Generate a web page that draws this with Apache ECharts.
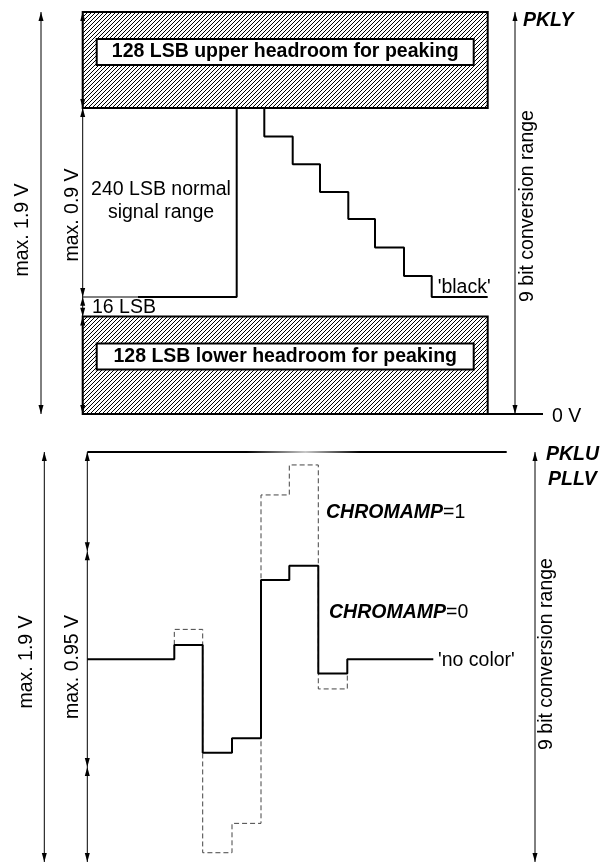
<!DOCTYPE html>
<html>
<head>
<meta charset="utf-8">
<script src="https://cdn.jsdelivr.net/npm/echarts@6/dist/echarts.min.js"></script>
<style>
  html, body { margin: 0; padding: 0; background: #fff; }
  #chart { width: 610px; height: 865px; }
</style>
</head>
<body>
<div id="chart"></div>
<script>
// horizontal position (t) is shared by both panels
// --- upper panel: luma (levels in drawing LSB units, 0 = 0 V)
const headroomT = [82.7, 487.7]
const headroomBottom = [0, 408]
const headroomTop = [130, 536]
const headroomNames = ['128 LSB lower headroom for peaking', '128 LSB upper headroom for peaking']

const lumaT = [138, 236.7, 264.3, 292.7, 320, 348.3, 375, 404, 431.7, 487.7]
const lumaLevel = [156, 408, 370, 333, 296, 260, 222, 184, 156, 156]

// dimension arrows: [t, from, to]
const lumaArrows = [
  [41, 0, 536],
  [82.7, 408, 536],
  [82.7, 156, 408],
  [82.7, 130, 156],
  [82.7, 0, 130],
  [515, 0, 536]
]

// --- lower panel: chroma (levels in mV)
const chromaT = [87.3, 174.3, 202.7, 232, 261, 289.3, 318.3, 347.3, 433.3]
const chroma0 = [940, 1006, 506, 573, 1307, 1373, 874, 940, 940]
const chroma1T = [174.3, 174.3, 202.7, 232, 261, 289.3, 318.3, 347.3]
const chroma1 = [1006, 1078, 43, 179, 1701, 1840, 802, 874]
const chromaTop = [[87.3, 1900], [506.7, 1900]]

const chromaArrows = [
  [44.3, 0, 1900],
  [87.3, 1440, 1900],
  [87.3, 440, 1440],
  [87.3, 0, 440],
  [535, 0, 1900]
]

const FONT = '"Liberation Sans", Arial, sans-serif'

let hatch = document.createElement('canvas')
hatch.width = 4
hatch.height = 4
let hctx = hatch.getContext('2d')
hctx.fillStyle = '#000'
for (let i = 0; i < 4; i++) {
  hctx.fillRect(i, 3 - i, 1, 1)
}

function zip(xs, ys) {
  return xs.map((x, i) => [x, ys[i]])
}

function renderHeadroom(params, api) {
  const p0 = api.coord([api.value(0), api.value(3)])
  const p1 = api.coord([api.value(1), api.value(2)])
  const w = p1[0] - p0[0]
  const h = p1[1] - p0[1]
  return {
    type: 'group',
    children: [
      {
        type: 'rect',
        shape: {x: p0[0], y: p0[1], width: w, height: h},
        style: {fill: {type: 'pattern', image: hatch, repeat: 'repeat'}, stroke: '#000', lineWidth: 2}
      },
      {
        type: 'rect',
        shape: {x: p0[0] + 14, y: p0[1] + 27, width: w - 28, height: 26},
        style: {fill: '#fff', stroke: '#000', lineWidth: 2}
      },
      {
        type: 'text',
        x: p0[0] + w / 2,
        y: p0[1] + 40,
        style: {
          text: headroomNames[params.dataIndex],
          fill: '#000',
          fontFamily: FONT,
          fontWeight: 'bold',
          fontSize: 19.5,
          align: 'center',
          verticalAlign: 'middle'
        }
      }
    ]
  }
}

function renderArrow(params, api) {
  const a = api.coord([api.value(0), api.value(2)])
  const b = api.coord([api.value(0), api.value(1)])
  const hl = Math.min(9, (b[1] - a[1]) / 2.2)
  return {
    type: 'group',
    children: [
      {
        type: 'line',
        shape: {x1: a[0], y1: a[1], x2: b[0], y2: b[1]},
        style: {stroke: '#000', lineWidth: 1}
      },
      {
        type: 'polygon',
        shape: {points: [[a[0], a[1]], [a[0] - 2.5, a[1] + hl], [a[0] + 2.5, a[1] + hl]]},
        style: {fill: '#000'}
      },
      {
        type: 'polygon',
        shape: {points: [[b[0], b[1]], [b[0] - 2.5, b[1] - hl], [b[0] + 2.5, b[1] - hl]]},
        style: {fill: '#000'}
      }
    ]
  }
}

function text(x, y, str, extra) {
  return {
    type: 'text',
    x: x,
    y: y,
    rotation: (extra && extra.rotation) || 0,
    style: Object.assign({
      text: str,
      fill: '#000',
      fontFamily: FONT,
      fontSize: 19.5,
      align: 'left',
      verticalAlign: 'middle'
    }, extra && extra.style)
  }
}

const up = {rotation: Math.PI / 2, style: {align: 'center'}}
const boldItalic = {style: {fontWeight: 'bold', fontStyle: 'italic'}}
const chromaRich = {
  b: {fontFamily: FONT, fontSize: 19.5, fontWeight: 'bold', fontStyle: 'italic', fill: '#000'},
  n: {fontFamily: FONT, fontSize: 19.5, fill: '#000'}
}

let mychart = echarts.init(document.getElementById('chart'))

let option = {
  animation: false,
  backgroundColor: '#fff',
  grid: [
    {left: 0, right: 0, top: 12, height: 402},
    {left: 0, right: 0, top: 452, height: 410}
  ],
  xAxis: [
    {gridIndex: 0, type: 'value', min: 0, max: 610, show: false},
    {gridIndex: 1, type: 'value', min: 0, max: 610, show: false}
  ],
  yAxis: [
    {gridIndex: 0, type: 'value', min: 0, max: 536, show: false},
    {gridIndex: 1, type: 'value', min: 0, max: 1900, show: false}
  ],
  graphic: [
    text(23, 230, 'max. 1.9 V', up),
    text(72.5, 215, 'max. 0.9 V', up),
    text(528, 206, '9 bit conversion range', up),
    text(161, 201.5, '240 LSB normal\nsignal range', {style: {align: 'center', lineHeight: 23}}),
    text(92, 308, '16 LSB'),
    text(437.7, 288, "'black'"),
    text(552, 417, '0 V'),
    text(523, 21, 'PKLY', boldItalic),
    text(27, 662, 'max. 1.9 V', up),
    text(72.5, 667, 'max. 0.95 V', up),
    text(547, 654, '9 bit conversion range', up),
    text(546, 455, 'PKLU', boldItalic),
    text(548, 480, 'PLLV', boldItalic),
    text(326, 513, '{b|CHROMAMP}{n|=1}', {style: {rich: chromaRich}}),
    text(329, 612.5, '{b|CHROMAMP}{n|=0}', {style: {rich: chromaRich}}),
    text(438, 661, "'no color'")
  ],
  series: [
    {
      name: 'headroom',
      type: 'custom',
      xAxisIndex: 0,
      yAxisIndex: 0,
      clip: false,
      renderItem: renderHeadroom,
      data: headroomBottom.map((lo, i) => [headroomT[0], headroomT[1], lo, headroomTop[i]])
    },
    {
      name: 'zero',
      type: 'line',
      xAxisIndex: 0,
      yAxisIndex: 0,
      clip: false,
      symbol: 'none',
      lineStyle: {color: '#000', width: 2},
      data: [[82.7, 0], [543, 0]]
    },
    {
      name: 'black ext',
      type: 'line',
      xAxisIndex: 0,
      yAxisIndex: 0,
      symbol: 'none',
      lineStyle: {color: '#000', width: 1},
      data: [[82.7, 156], [138, 156]]
    },
    {
      name: 'luma',
      type: 'line',
      xAxisIndex: 0,
      yAxisIndex: 0,
      clip: false,
      step: 'end',
      symbol: 'none',
      lineStyle: {color: '#000', width: 2},
      data: zip(lumaT, lumaLevel)
    },
    {
      name: 'luma dims',
      type: 'custom',
      xAxisIndex: 0,
      yAxisIndex: 0,
      clip: false,
      renderItem: renderArrow,
      data: lumaArrows
    },
    {
      name: 'chroma top',
      type: 'line',
      xAxisIndex: 1,
      yAxisIndex: 1,
      clip: false,
      symbol: 'none',
      lineStyle: {
        width: 2,
        // slight fade in the middle of the top line, as in the scan
        color: new echarts.graphic.LinearGradient(87, 0, 507, 0, [
          {offset: 0, color: '#000'},
          {offset: 0.38, color: '#000'},
          {offset: 0.52, color: '#c8c8c8'},
          {offset: 0.65, color: '#000'},
          {offset: 1, color: '#000'}
        ], true)
      },
      data: chromaTop
    },
    {
      name: 'CHROMAMP=1',
      type: 'line',
      xAxisIndex: 1,
      yAxisIndex: 1,
      clip: false,
      step: 'end',
      symbol: 'none',
      lineStyle: {color: '#444', width: 1, type: [5, 3]},
      data: zip(chroma1T, chroma1)
    },
    {
      name: 'CHROMAMP=0',
      type: 'line',
      xAxisIndex: 1,
      yAxisIndex: 1,
      clip: false,
      step: 'end',
      symbol: 'none',
      lineStyle: {color: '#000', width: 2},
      data: zip(chromaT, chroma0)
    },
    {
      name: 'chroma dims',
      type: 'custom',
      xAxisIndex: 1,
      yAxisIndex: 1,
      clip: false,
      renderItem: renderArrow,
      data: chromaArrows
    }
  ]
}

mychart.setOption(option)
window.onresize = function () {
  mychart.resize()
}
</script>
</body>
</html>
